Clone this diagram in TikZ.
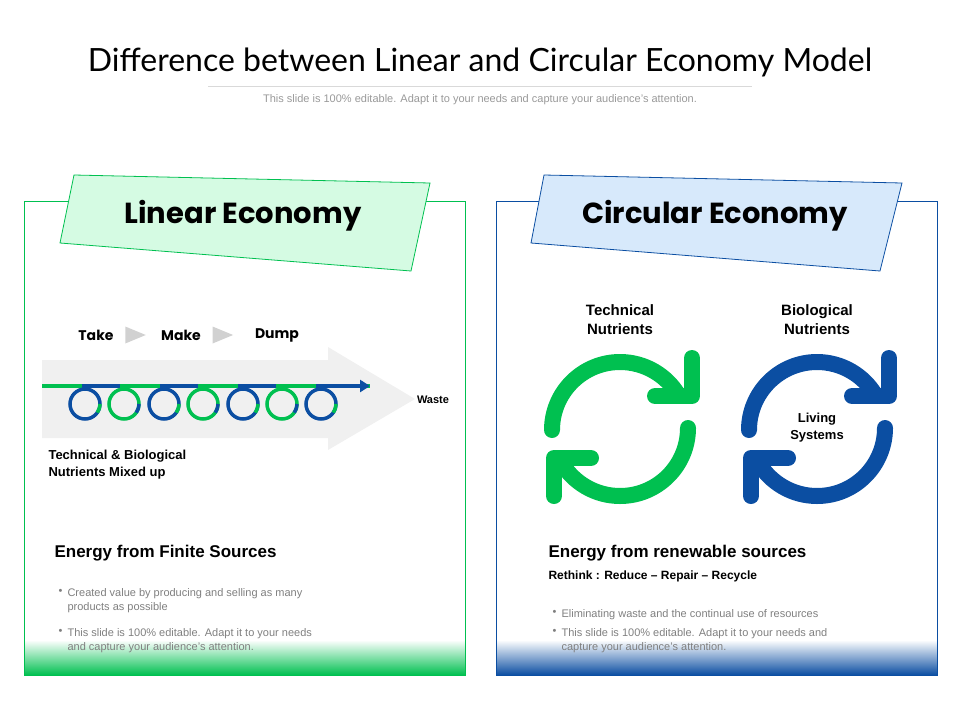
\documentclass[tikz,border=0pt]{standalone}
\usepackage{fontspec}
\setmainfont{Liberation Sans}
\newfontfamily\headfont{Poppins}
\newfontfamily\titlefont{Lato}
\usepackage{tikz}
\usetikzlibrary {arrows.meta,
                 calc,
                 positioning,
                 shapes.geometric}
\definecolor{lgreen}{HTML}{00C050}
\definecolor{lblue}{HTML}{0B4EA2}
\definecolor{bgreen}{HTML}{D5FBE3}
\definecolor{bblue}{HTML}{D7E9FB}
\definecolor{txtgray}{HTML}{7F7F7F}
\tikzset{
        panel/.style={draw, line width=0.8pt},
        banner/.style={draw, line width=0.8pt},
        bannertext/.style={font=\headfont\bfseries\fontsize{29}{34}\selectfont},
        steptext/.style={font=\headfont\bfseries\fontsize{14}{18}\selectfont},
        chev/.style={fill=black!18, isosceles triangle, inner sep=0pt,
                     minimum width=17pt, minimum height=15pt},
        smallbold/.style={font=\bfseries\fontsize{13}{17}\selectfont, align=center},
        bodytext/.style={font=\fontsize{11}{14}\selectfont, text=txtgray,
                         anchor=north west, align=left},
        headline/.style={font=\bfseries\fontsize{17}{20}\selectfont, anchor=west},
        cyc/.style={line width=16pt, line cap=round, line join=round},
        ring/.style={line width=3.5pt},
 }

\begin{document}
\begin{tikzpicture}[x=1pt,y=-1pt]
    \useasboundingbox (0,0) rectangle (960,720);

    % title
    \node[font=\titlefont\fontsize{32}{38}\selectfont] (title) at (480,62)
        {Difference between Linear and Circular Economy Model};
    \draw[black!15] (208,86) -- (752,86);
    \node[font=\fontsize{11}{13}\selectfont, text=black!40] (sub) at (480,100)
        {This slide is 100\% editable. Adapt it to your needs and capture your audience's attention.};

    % panels
    \shade[top color=white, bottom color=lgreen] (24,640) rectangle (465,675);
    \shade[top color=white, bottom color=lblue] (496,640) rectangle (937,675);
    \draw[panel, lgreen] (24,201) rectangle (465,675);
    \draw[panel, lblue] (496,201) rectangle (937,675);

    % banners
    \draw[banner, lgreen, fill=bgreen] (74,175) -- (430,183) -- (411,271) -- (60,243) -- cycle;
    \node[bannertext] (lin) at (243,216) {Linear Economy};
    \draw[banner, lblue, fill=bblue] (544,175) -- (902,183) -- (880,271) -- (531,243) -- cycle;
    \node[bannertext] (circ) at (715,216) {Circular Economy};

    % take make dump
    \node[steptext] (take) at (96,335) {Take};
    \node[chev, right=8pt of take] (c1) {};
    \node[steptext] (make) at (181,335) {Make};
    \node[chev, right=8pt of make] (c2) {};
    \node[steptext] (dump) at (277,335) {Dump};

    % big arrow
    \fill[black!6] (42,360) -- (328,360) -- (328,347) -- (415,399)
        -- (328,450) -- (328,438) -- (42,438) -- cycle;
    \coordinate (ls) at (42,386);
    \coordinate (le) at (370,386);
    \draw[lgreen, line width=3.5pt] (ls) -- (le);
    \foreach \x in {82,160,238,316}
        \draw[lblue, line width=3.5pt] (\x,386) -- ++(38,0);
    \draw[lblue, line width=3.5pt, -{Triangle[length=10pt,width=12pt]}] (316,386) -- (le);
    \foreach \x/\c/\d [count=\i] in {85/lblue/lgreen,124/lgreen/lblue,164/lblue/lgreen,203/lgreen/lblue,243/lblue/lgreen,282/lgreen/lblue,321/lblue/lgreen} {
        \draw[ring, \c] (\x,404) circle (15);
        \draw[ring, \d] (\x+15,404) arc[start angle=0, end angle=35, radius=15];
    }
    \node[font=\bfseries\fontsize{11}{13}\selectfont] (waste) at (433,400) {Waste};
    \node[smallbold, align=left, anchor=west] (mixed) at (45,465)
        {Technical \& Biological\\Nutrients Mixed up};

    % left text
    \node[headline] (lhead) at (51,553) {Energy from Finite Sources};
    \node[bodytext] (lb1) at (55,586) {\textbullet};
    \node[bodytext] (lt1) at (64,585) {Created value by producing and selling as many\\products as possible};
    \node[bodytext] (lb2) at (55,626) {\textbullet};
    \node[bodytext] (lt2) at (64,625) {This slide is 100\% editable. Adapt it to your needs\\and capture your audience's attention.};

    % cycles
    \foreach \cx/\c/\lab [count=\i] in {620/lgreen/{Technical\\Nutrients},817/lblue/{Biological\\Nutrients}} {
        \node[smallbold, font=\bfseries\fontsize{15}{19}\selectfont] (cyclab\i) at (\cx,320) {\lab};
        \draw[cyc, \c] (\cx-68,430) arc[start angle=180, end angle=330, radius=68];
        \draw[cyc, \c] (\cx+72,358) -- (\cx+72,396) -- (\cx+35,396);
        \draw[cyc, \c] (\cx+68,428) arc[start angle=0, end angle=150, radius=68];
        \draw[cyc, \c] (\cx-66,496) -- (\cx-66,458) -- (\cx-29,458);
    }
    \node[smallbold] (living) at (817,428) {Living\\Systems};

    % right text
    \node[headline] (rhead) at (545,553) {Energy from renewable sources};
    \node[font=\bfseries\fontsize{12}{15}\selectfont, anchor=west] (rethink) at (545,576)
        {Rethink : Reduce -- Repair -- Recycle};
    \node[bodytext] (rb1) at (549,607) {\textbullet};
    \node[bodytext] (rt1) at (558,606) {Eliminating waste and the continual use of resources};
    \node[bodytext] (rb2) at (549,626) {\textbullet};
    \node[bodytext] (rt2) at (558,625) {This slide is 100\% editable. Adapt it to your needs and\\capture your audience's attention.};
\end{tikzpicture}
\end{document}
